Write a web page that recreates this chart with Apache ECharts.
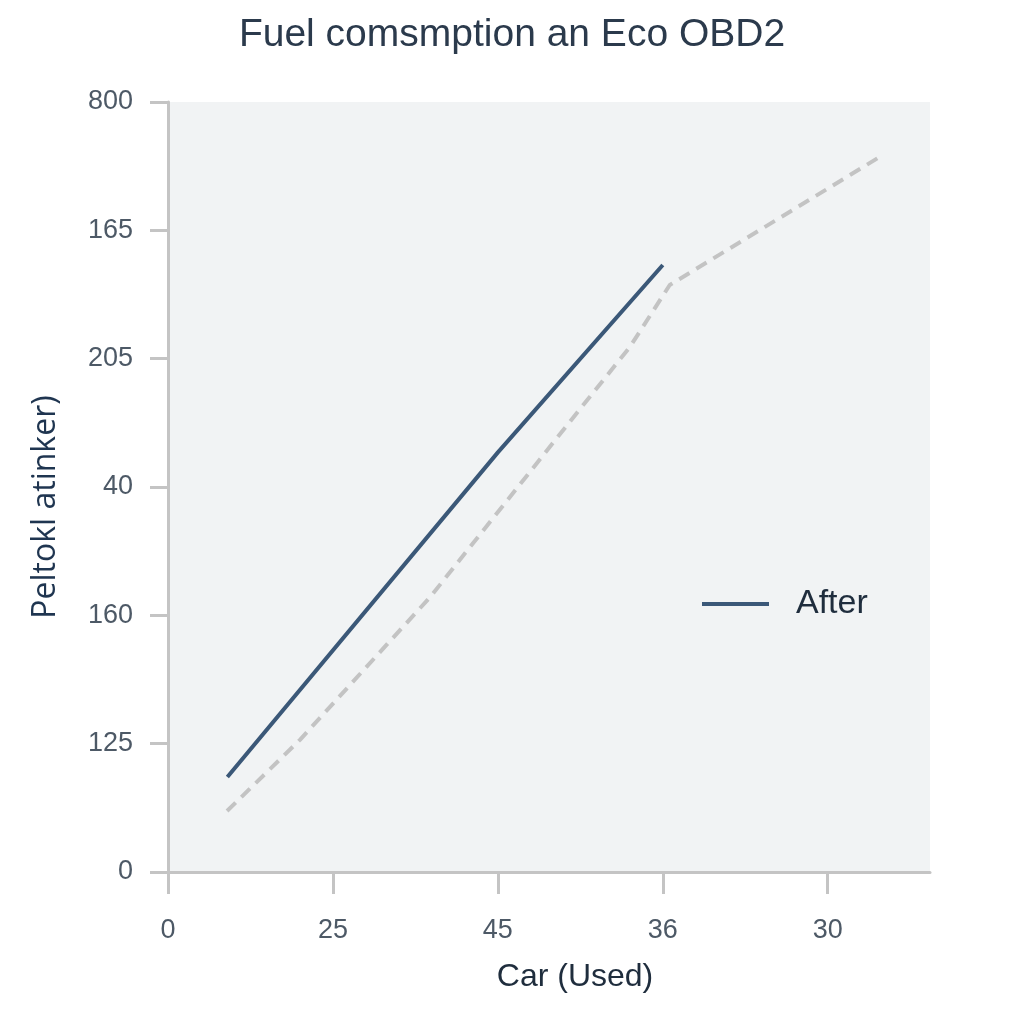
<!DOCTYPE html>
<html><head><meta charset="utf-8">
<script src="https://cdn.jsdelivr.net/npm/echarts@6/dist/echarts.min.js"></script>
<style>html,body{margin:0;padding:0;background:#fff}#c{width:1024px;height:1024px}</style>
</head><body><div id="c"></div>
<script>
const titleText = 'Fuel comsmption an Eco OBD2';
const xName = 'Car (Used)';
const yName = 'Peltokl atinker)';
const xTickLabels = ['0', '25', '45', '36', '30'];
const yTickLabels = ['0', '125', '160', '40', '205', '165', '800'];
const afterName = 'After';
const afterData = [[0.36, 0.74], [2.0, 3.27], [3.0, 4.73]];
const beforeData = [[0.358, 0.475], [0.80, 1.03], [1.588, 2.14], [2.479, 3.577], [2.8, 4.09], [3.042, 4.574], [4.315, 5.572]];
const xTickIdx = xTickLabels.map((_, i) => i);

const chart = echarts.init(document.getElementById('c'), null, {renderer: 'canvas'});
chart.setOption({
  backgroundColor: '#ffffff',
  animation: false,
  title: {
    text: titleText, left: 'center', top: 11,
    textStyle: {fontFamily: 'Liberation Sans', fontSize: 39, fontWeight: 'normal', color: '#2b3a4c'}
  },
  legend: {
    data: [afterName], left: 697, top: 582, itemWidth: 67, itemHeight: 4, icon: 'rect',
    itemStyle: {color: '#3b5878'},
    textStyle: {fontFamily: 'Liberation Sans', fontSize: 34, color: '#1f2d3d', padding: [0, 0, 0, 22]}
  },
  grid: {left: 168, right: 94, top: 102, bottom: 152, show: true, backgroundColor: '#f1f3f4', borderWidth: 0, outerBoundsMode: 'none'},
  xAxis: {
    type: 'value', min: 0, max: 4.62, interval: 1,
    name: xName, nameLocation: 'middle', nameGap: 89,
    nameTextStyle: {fontFamily: 'Liberation Sans', fontSize: 32, color: '#1f2d3d', padding: [0, 0, 0, 52]},
    axisLine: {show: true, lineStyle: {color: '#c4c4c4', width: 3}},
    axisTick: {show: true, length: 22, customValues: xTickIdx, lineStyle: {color: '#c4c4c4', width: 3}},
    axisLabel: {customValues: xTickIdx, margin: 45, fontFamily: 'Liberation Sans', fontSize: 27, color: '#4d5966',
      formatter: v => xTickLabels[Math.round(v)] ?? ''},
    splitLine: {show: false}
  },
  yAxis: {
    type: 'value', min: 0, max: 6, interval: 1,
    name: yName, nameLocation: 'middle', nameGap: 106,
    nameTextStyle: {fontFamily: 'Open Sans', fontSize: 32, color: '#1f3550', padding: [0, 40, 0, 0]},
    axisLine: {show: true, lineStyle: {color: '#c4c4c4', width: 3}},
    axisTick: {show: true, length: 18, lineStyle: {color: '#c4c4c4', width: 3}},
    axisLabel: {margin: 35, fontFamily: 'Liberation Sans', fontSize: 27, color: '#4d5966',
      formatter: v => yTickLabels[Math.round(v)] ?? ''},
    splitLine: {show: false}
  },
  series: [
    {name: 'Before', type: 'line', data: beforeData, symbol: 'none', smooth: false,
      lineStyle: {color: '#c3c3c3', width: 4, type: [12, 8]}, itemStyle: {color: '#c3c3c3'}},
    {name: afterName, type: 'line', data: afterData, symbol: 'none', smooth: false,
      lineStyle: {color: '#3b5878', width: 4}, itemStyle: {color: '#3b5878'}}
  ]
});
</script></body></html>
